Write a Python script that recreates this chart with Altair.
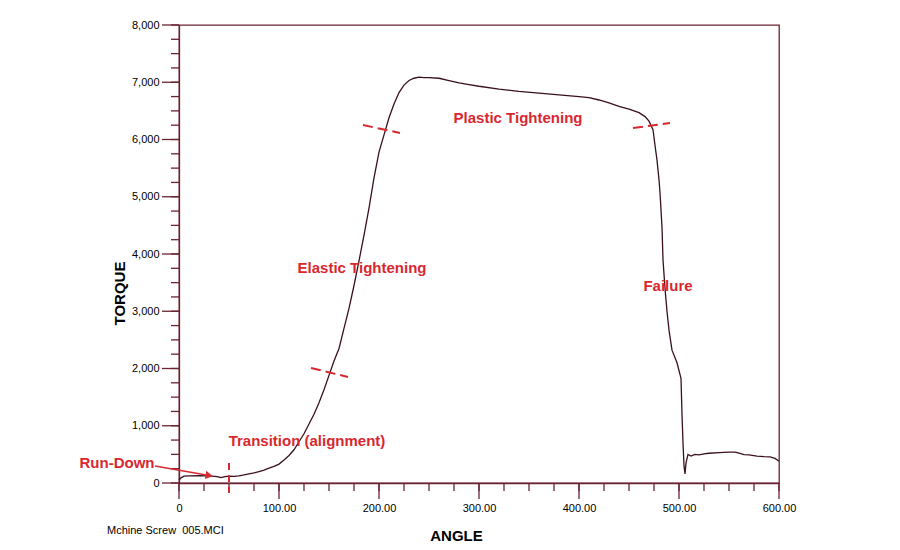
import altair as alt
import pandas as pd

# Torque-angle trace of a machine screw tightening test
angle = [0, 2, 5, 10, 20, 30, 38, 42, 46, 50, 55, 60, 65, 70, 75, 80, 85, 90, 95,
         100, 105, 110, 115, 120, 125, 130, 135, 140, 145, 150, 155, 160, 165, 170,
         175, 180, 185, 190, 195, 200, 205, 210, 215, 220, 225, 230, 235, 240, 245,
         250, 260, 270, 280, 290, 300, 320, 340, 360, 380, 400, 410, 420, 430, 440,
         450, 460, 466, 470, 474, 476, 478, 480, 481, 483, 484, 486, 488, 490, 493,
         498, 502, 503, 504, 505, 506, 507, 509, 512, 516, 520, 525, 530, 540, 550,
         556, 560, 565, 570, 578, 585, 591, 596, 600]
torque = [50, 90, 120, 125, 130, 125, 110, 95, 110, 120, 115, 125, 140, 160, 175,
          200, 225, 260, 290, 330, 400, 480, 580, 720, 860, 1030, 1200, 1400, 1630,
          1880, 2130, 2350, 2700, 3050, 3450, 3880, 4330, 4800, 5330, 5780, 6080,
          6380, 6620, 6820, 6950, 7030, 7070, 7090, 7080, 7080, 7070, 7030, 6990,
          6960, 6930, 6880, 6840, 6810, 6780, 6750, 6730, 6690, 6640, 6580, 6530,
          6470, 6400, 6320, 6170, 5900, 5640, 5300, 5070, 4470, 3900, 3400, 3000,
          2670, 2320, 2100, 1830, 1200, 700, 300, 160, 350, 500, 470, 500, 490, 510,
          520, 530, 540, 540, 520, 495, 490, 470, 460, 455, 430, 380]

# Axis tick positions
x_minor = list(range(0, 601, 25))
x_major = list(range(0, 601, 100))
y_minor = list(range(0, 8001, 250))
y_major = list(range(0, 8001, 1000))

# Phase labels
label_text = ["Plastic Tightening", "Elastic Tightening", "Failure",
              "Transition (alignment)", "Run-Down"]
label_x = [339, 183, 489, 128, -62]
label_y = [6376, 3755, 3441, 734, 349]

# Dashed phase boundary markers (start/end points)
seg_x = [184, 132, 454]
seg_y = [6253, 2009, 6201]
seg_x2 = [221, 169, 491]
seg_y2 = [6114, 1852, 6288]

# Vertical marker at the end of run-down
vmark_x = [50]
vmark_y = [349]
vmark_y2 = [-175]

# Run-down arrow
arrow_x = [-24]
arrow_y = [297]
arrow_x2 = [33]
arrow_y2 = [122]
head_x = [29]
head_y = [134]

AXIS = "#6b2233"
LINE = "#3a1020"
RED = "#d8282f"
FONT = "Liberation Sans"
H = 458

x_scale = alt.Scale(domain=[0, 600], nice=False, zero=False)
y_scale = alt.Scale(domain=[0, 8000], nice=False)

x_axis = alt.Axis(
    values=x_major,
    ticks=False,
    labelExpr="datum.value === 0 ? '0' : format(datum.value, '.2f')",
    labelPadding=19,
    labelFlush=False,
    labelOverlap=False,
    title="ANGLE",
    titleFontSize=15,
    titleFontWeight="bold",
    titleColor="black",
    titleFont=FONT,
    titleX=277,
    titleY=57,
    titleAlign="center",
    titleBaseline="alphabetic",
)
y_axis = alt.Axis(
    values=y_major,
    ticks=False,
    labelExpr="format(datum.value, ',')",
    labelPadding=20,
    labelFlush=False,
    labelOverlap=False,
    title="TORQUE",
    titleFontSize=15,
    titleFontWeight="bold",
    titleColor="black",
    titleFont=FONT,
    titleX=-55,
    titleY=268,
    titleAlign="center",
    titleBaseline="alphabetic",
)

X = alt.X("angle:Q", scale=x_scale)
Y = alt.Y("torque:Q", scale=y_scale)

curve_df = pd.DataFrame({"angle": angle, "torque": torque})
curve = alt.Chart(curve_df).mark_line(color=LINE, strokeWidth=1.3).encode(
    x=alt.X("angle:Q", scale=x_scale, axis=x_axis),
    y=alt.Y("torque:Q", scale=y_scale, axis=y_axis),
)

# Tick marks drawn outside the plot area: short minor, long major
tick_style = dict(color=AXIS, strokeWidth=1.3)
xmin = alt.Chart(pd.DataFrame({"angle": x_minor})).mark_rule(**tick_style).encode(
    x=X, y=alt.value(H), y2=alt.value(H + 8),
)
xmaj = alt.Chart(pd.DataFrame({"angle": x_major})).mark_rule(**tick_style).encode(
    x=X, y=alt.value(H), y2=alt.value(H + 16),
)
ymin = alt.Chart(pd.DataFrame({"torque": y_minor})).mark_rule(**tick_style).encode(
    y=Y, x=alt.value(-8), x2=alt.value(0),
)
ymaj = alt.Chart(pd.DataFrame({"torque": y_major})).mark_rule(**tick_style).encode(
    y=Y, x=alt.value(-17), x2=alt.value(0),
)

labels_df = pd.DataFrame({"text": label_text, "angle": label_x, "torque": label_y})
labels = alt.Chart(labels_df).mark_text(
    color=RED, font=FONT, fontSize=15, fontWeight="bold",
    align="center", baseline="middle",
).encode(x=X, y=Y, text="text:N")

seg_df = pd.DataFrame({"angle": seg_x, "torque": seg_y, "x2": seg_x2, "y2": seg_y2})
segs = alt.Chart(seg_df).mark_rule(color=RED, strokeWidth=2, strokeDash=[10, 5]).encode(
    x=X, y=Y, x2="x2:Q", y2="y2:Q",
)

vmark_df = pd.DataFrame({"angle": vmark_x, "torque": vmark_y, "y2": vmark_y2})
vmark = alt.Chart(vmark_df).mark_rule(color=RED, strokeWidth=2, strokeDash=[7, 5]).encode(
    x=X, y=Y, y2="y2:Q",
)

arrow_df = pd.DataFrame({"angle": arrow_x, "torque": arrow_y, "x2": arrow_x2, "y2": arrow_y2})
arrow = alt.Chart(arrow_df).mark_rule(color=RED, strokeWidth=1.5).encode(
    x=X, y=Y, x2="x2:Q", y2="y2:Q",
)

head_df = pd.DataFrame({"angle": head_x, "torque": head_y})
head = alt.Chart(head_df).mark_point(
    shape="triangle", filled=True, color=RED, size=70, angle=100, opacity=1,
).encode(x=X, y=Y)

note_df = pd.DataFrame({"text": ["Mchine Screw\u00a0 005.MCI"], "angle": [-72], "torque": [-838]})
note = alt.Chart(note_df).mark_text(
    color="black", font=FONT, fontSize=11, align="left", baseline="middle",
).encode(x=X, y=Y, text="text:N")

chart = alt.layer(
    curve, xmin, xmaj, ymin, ymaj, segs, vmark, arrow, head, labels, note
).properties(
    width=600,
    height=H,
    padding={"left": 179, "top": 25, "right": 121, "bottom": 67},
    autosize=alt.AutoSizeParams(type="none"),
    background="white",
).configure_view(
    stroke=AXIS, strokeWidth=1.3,
).configure_axis(
    grid=False,
    domainColor=AXIS,
    domainWidth=1.3,
    labelColor="black",
    labelFont=FONT,
    labelFontSize=11,
)

chart.save("out.html", embed_options={"renderer": "svg", "actions": False})
